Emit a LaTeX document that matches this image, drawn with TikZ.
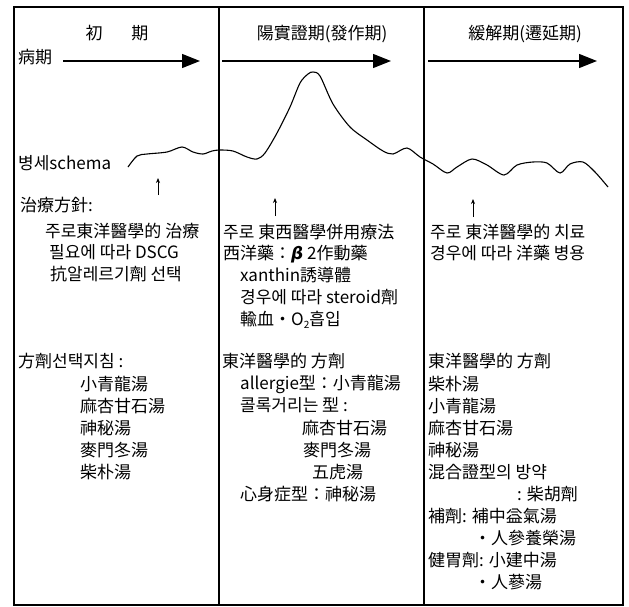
\documentclass[tikz,border=0pt]{standalone}
\usepackage{fontspec}
\setmainfont{Noto Sans CJK KR}
\newfontfamily\dejavu{DejaVu Sans}
\usetikzlibrary{arrows.meta}
\begin{document}
\begin{tikzpicture}[x={(1pt,0pt)},y={(0pt,-1pt)},
  txt/.style={anchor=base west,inner sep=0pt,yshift=-6pt,font=\fontsize{17}{17}\selectfont},
  hdr/.style={txt,anchor=base},
  frame/.style={line width=1.3pt},
  phase/.style={line width=1.3pt,-{Triangle[length=18pt,width=14pt]}},
  tick/.style={line width=0.8pt,-{Stealth[length=5pt,width=4pt]}},
  curve/.style={line width=1.1pt,line join=round}]
\useasboundingbox (0,0) rectangle (629,606);
% frame and dividers
\draw[frame] (14,7) rectangle (623,605);
\draw[frame] (219,7) -- (219,605);
\draw[frame] (424,7) -- (424,605);
% headers
\node[hdr] (h1) at (117,33) {初\hspace{1.68em}期};
\node[hdr] (h2) at (322,33) {陽實證期(發作期)};
\node[hdr] (h3) at (525,33) {緩解期(遷延期)};
% phase arrows
\node[txt] (bq) at (18,57) {病期};
\coordinate (a1s) at (63,61); \coordinate (a1e) at (200,61);
\coordinate (a2s) at (222,61); \coordinate (a2e) at (391,61);
\coordinate (a3s) at (428,61); \coordinate (a3e) at (597,61);
\draw[phase] (a1s) -- (a1e);
\draw[phase] (a2s) -- (a2e);
\draw[phase] (a3s) -- (a3e);
% schema curve
\node[txt] (bs) at (18,163) {병세schema};
\draw[curve] plot[smooth,tension=0.5] coordinates {
 (128,167) (137,156) (147,154) (167,152) (182,147) (193,152) (203,154)
 (212,151) (220,150) (233,151) (247,157) (257,159) (265,153) (277,133)
 (290,107) (300,83) (308,74) (313,72) (320,76) (333,104) (350,127) (367,140)
 (383,151) (393,154) (407,148) (420,157) (433,164) (447,173) (457,167)
 (472,159) (487,165) (504,175) (517,165) (533,162) (547,163) (560,173)
 (570,164) (583,162) (595,172) (608,187)};
% small arrows
\coordinate (t1a) at (158,195); \coordinate (t1b) at (158,178);
\coordinate (t2a) at (275,216); \coordinate (t2b) at (275,198);
\coordinate (t3a) at (473,217); \coordinate (t3b) at (473,199);
\draw[tick] (t1a) -- (t1b);
\draw[tick] (t2a) -- (t2b);
\draw[tick] (t3a) -- (t3b);
% left column
\node[txt] (l1) at (20,205) {治療方針:};
\node[txt] (l2) at (45,231) {주로東洋醫學的 治療};
\node[txt] (l3) at (49,252) {필요에 따라 DSCG};
\node[txt] (l4) at (50,274) {抗알레르기劑 선택};
\node[txt] (l5) at (18,361) {方劑선택지침 :};
\node[txt] (l6) at (80,384) {小青龍湯};
\node[txt] (l7) at (80,406) {麻杏甘石湯};
\node[txt] (l8) at (80,428) {神秘湯};
\node[txt] (l9) at (80,450) {麥門冬湯};
\node[txt] (l10) at (80,472) {柴朴湯};
% middle column
\node[txt] (m1) at (223,232) {주로 東西醫學併用療法};
\node[txt] (m2) at (223,253) {西洋藥：{\dejavu\bfseries\itshape β} 2作動藥};
\node[txt] (m3) at (240,275) {xanthin誘導體};
\node[txt] (m4) at (240,297) {경우에 따라 steroid劑};
\node[txt] (m5) at (240,319) {輸血・O\raisebox{-0.2em}{\fontsize{10}{10}\selectfont 2}흡입};
\node[txt] (m6) at (222,361) {東洋醫學的 方劑};
\node[txt] (m7) at (240,383) {allergie型：小青龍湯};
\node[txt] (m8) at (240,405) {콜록거리는 型 :};
\node[txt] (m9) at (302,428) {麻杏甘石湯};
\node[txt] (m10) at (303,450) {麥門冬湯};
\node[txt] (m11) at (312,472) {五虎湯};
\node[txt] (m12) at (240,494) {心身症型：神秘湯};
% right column
\node[txt] (r1) at (430,232) {주로 東洋醫學的 치료};
\node[txt] (r2) at (430,253) {경우에 따라 洋藥 병용};
\node[txt] (r3) at (428,361) {東洋醫學的 方劑};
\node[txt] (r4) at (428,384) {柴朴湯};
\node[txt] (r5) at (428,406) {小青龍湯};
\node[txt] (r6) at (428,428) {麻杏甘石湯};
\node[txt] (r7) at (428,450) {神秘湯};
\node[txt] (r8) at (428,472) {混合證型의 방약};
\node[txt] (r9) at (517,494) {: 柴胡劑};
\node[txt] (r10) at (428,516) {補劑: 補中益氣湯};
\node[txt] (r11) at (474,538) {・人參養榮湯};
\node[txt] (r12) at (428,560) {健胃劑: 小建中湯};
\node[txt] (r13) at (474,582) {・人蔘湯};
\end{tikzpicture}
\end{document}
